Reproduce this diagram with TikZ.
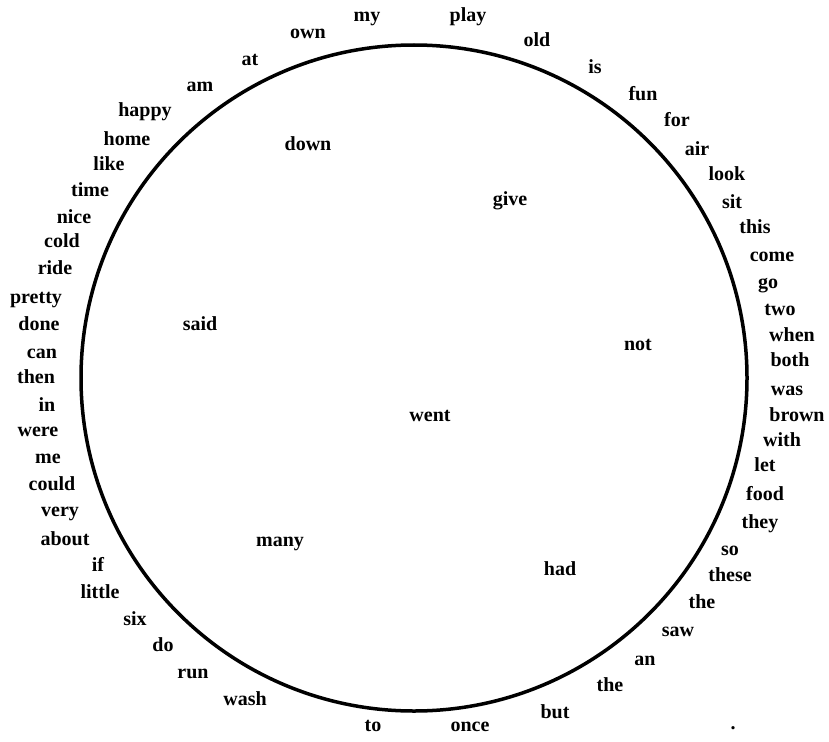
\documentclass[tikz,border=0pt]{standalone}
\usepackage{fontspec}
\setmainfont{Liberation Serif}
\begin{document}
\begin{tikzpicture}[x=1pt,y=-1pt,
  wd/.style={font=\fontsize{20}{20}\selectfont\bfseries, inner sep=0pt, text height=0.7em, text depth=0.2em, anchor=center},
  ring/.style={line width=3.5pt, black}]
\useasboundingbox (0,0) rectangle (829,741);
\node[circle, draw, ring, minimum size=666pt, inner sep=0pt] (c) at (414,378) {};
% inner words
\node[wd] (down) at (308,148) {down};
\node[wd] (give) at (510,203) {give};
\node[wd] (said) at (200,328) {said};
\node[wd] (not) at (638,348) {not};
\node[wd] (went) at (430,419) {went};
\node[wd] (many) at (280,544) {many};
\node[wd] (had) at (560,573) {had};
% outer words, left side
\node[wd] (my) at (367,19) {my};
\node[wd] (own) at (308,36) {own};
\node[wd] (at) at (250,63) {at};
\node[wd] (am) at (200,89) {am};
\node[wd] (happy) at (145,114) {happy};
\node[wd] (home) at (127,143) {home};
\node[wd] (like) at (109,168) {like};
\node[wd] (time) at (90,194) {time};
\node[wd] (nice) at (74,221) {nice};
\node[wd] (cold) at (62,245) {cold};
\node[wd] (ride) at (55,272) {ride};
\node[wd] (pretty) at (36,301) {pretty};
\node[wd] (done) at (39,328) {done};
\node[wd] (can) at (42,356) {can};
\node[wd] (then) at (36,381) {then};
\node[wd] (in) at (47,409) {in};
\node[wd] (were) at (38,434) {were};
\node[wd] (me) at (48,461) {me};
\node[wd] (could) at (52,488) {could};
\node[wd] (very) at (60,514) {very};
\node[wd] (about) at (65,543) {about};
\node[wd] (if) at (98,569) {if};
\node[wd] (little) at (100,596) {little};
\node[wd] (six) at (135,623) {six};
\node[wd] (do) at (163,649) {do};
\node[wd] (run) at (193,676) {run};
\node[wd] (wash) at (245,703) {wash};
\node[wd] (to) at (373,729) {to};
% outer words, right side
\node[wd] (once) at (470,729) {once};
\node[wd] (but) at (555,716) {but};
\node[wd] (the1) at (610,689) {the};
\node[wd] (an) at (645,663) {an};
\node[wd] (saw) at (678,634) {saw};
\node[wd] (the2) at (702,606) {the};
\node[wd] (these) at (730,579) {these};
\node[wd] (so) at (730,553) {so};
\node[wd] (they) at (760,526) {they};
\node[wd] (food) at (765,498) {food};
\node[wd] (let) at (765,469) {let};
\node[wd] (with) at (782,444) {with};
\node[wd] (brown) at (797,419) {brown};
\node[wd] (was) at (787,393) {was};
\node[wd] (both) at (790,364) {both};
\node[wd] (when) at (792,339) {when};
\node[wd] (two) at (780,313) {two};
\node[wd] (go) at (768,286) {go};
\node[wd] (come) at (772,259) {come};
\node[wd] (this) at (755,231) {this};
\node[wd] (sit) at (732,206) {sit};
\node[wd] (look) at (727,178) {look};
\node[wd] (air) at (697,153) {air};
\node[wd] (for) at (677,124) {for};
\node[wd] (fun) at (643,98) {fun};
\node[wd] (is) at (595,71) {is};
\node[wd] (old) at (537,44) {old};
\node[wd] (play) at (468,19) {play};
\node[wd] (dot) at (733,727) {.};
\end{tikzpicture}
\end{document}
